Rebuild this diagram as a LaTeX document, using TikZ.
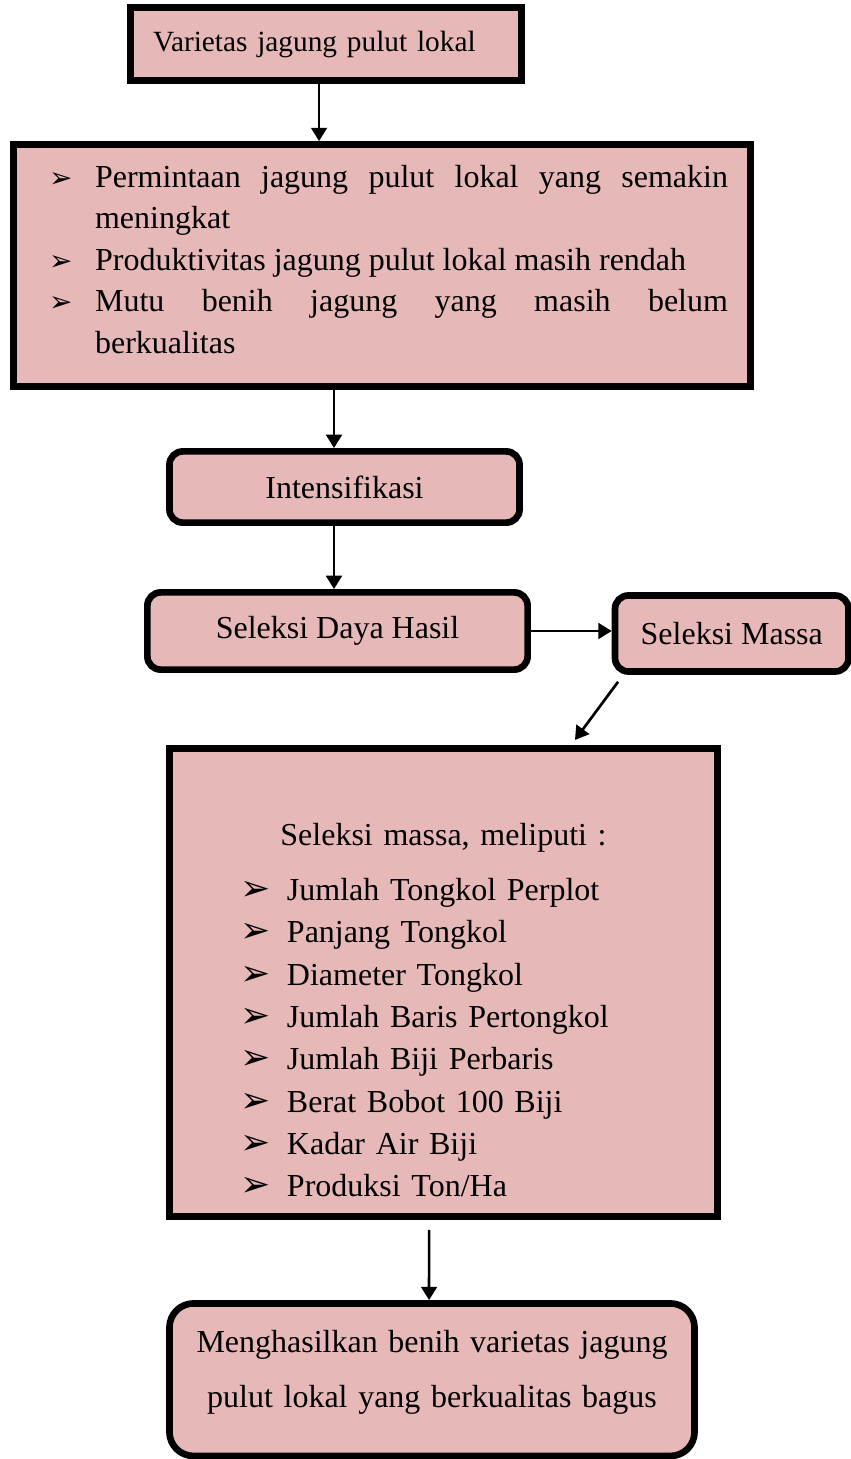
\documentclass[tikz,border=0pt]{standalone}
\usepackage{fontspec}
\setmainfont{Liberation Serif}
\newfontfamily\dingfont{DejaVu Sans}
\usepackage{tikz}
\usetikzlibrary{arrows.meta, positioning}
\definecolor{pinkfill}{RGB}{230,184,183}
\hyphenpenalty=10000
\tolerance=9999
\newcommand{\panah}[1]{{\dingfont\fontsize{#1}{#1}\selectfont ➢}}
\newcommand{\butir}[3]{\noindent\hangindent=#1\hangafter=1\makebox[#1][l]{\panah{#2}}#3\par}

\begin{document}
\begin{tikzpicture}[
  x=0.375pt, y=-0.375pt,
  box/.style={rectangle, draw=black, line width=2.5pt, fill=pinkfill,
              font=\fontsize{12pt}{15.56pt}\selectfont},
  roundbox/.style={box, rounded corners=5pt, align=center},
  arrow/.style={-{Triangle[length=5pt, width=5.9pt]}, line width=1pt}
]
\useasboundingbox (0,0) rectangle (850,1459);
\node[box, minimum width=146.6pt, minimum height=27.4pt, inner xsep=8.5pt,
      text width=129.7pt, align=left, font=\fontsize{11pt}{13pt}\selectfont]
      (varietas) at (326,44) {Varietas jagung pulut lokal};
\node[box, minimum width=276.4pt, minimum height=90.8pt, text width=259.5pt, align=justify]
      (masalah) at (382,265.5) {\leftskip=4.9pt
  \butir{17.25pt}{10.5pt}{Permintaan jagung pulut lokal yang semakin meningkat}
  \butir{17.25pt}{10.5pt}{Produktivitas jagung pulut lokal masih rendah}
  \butir{17.25pt}{10.5pt}{Mutu benih jagung yang masih belum\linebreak berkualitas\rule[-4.9pt]{0pt}{4.9pt}}};
\node[roundbox, minimum width=131.3pt, minimum height=26.7pt] (intens) at (344.5,487) {Intensifikasi};
\node[roundbox, minimum width=142.6pt, minimum height=28.95pt] (daya) at (337.5,631) {Seleksi Daya Hasil};
\node[roundbox, minimum width=87.55pt, minimum height=28.5pt] (massa) at (731.75,633.5) {Seleksi Massa};
\node[box, minimum width=205.6pt, minimum height=175.6pt, text width=151.9pt, align=left,
      font=\fontsize{12pt}{15.86pt}\selectfont] (seleksi) at (443.5,982.5) {%
  \noindent\makebox[\hsize]{\rule{0pt}{29.25pt}Seleksi massa, meliputi :}\par
  \vspace{4.65pt}
  \butir{17.25pt}{13.5pt}{Jumlah Tongkol Perplot}
  \butir{17.25pt}{13.5pt}{Panjang Tongkol}
  \butir{17.25pt}{13.5pt}{Diameter Tongkol}
  \butir{17.25pt}{13.5pt}{Jumlah Baris Pertongkol}
  \butir{17.25pt}{13.5pt}{Jumlah Biji Perbaris}
  \butir{17.25pt}{13.5pt}{Berat Bobot 100 Biji}
  \butir{17.25pt}{13.5pt}{Kadar Air Biji}
  \butir{17.25pt}{13.5pt}{Produksi Ton/Ha}};
\node[roundbox, rounded corners=9pt, minimum width=196.9pt, minimum height=57.2pt,
      text width=180pt, font=\fontsize{12pt}{20.6pt}\selectfont]
      (hasil) at (432,1379.7) {Menghasilkan benih varietas jagung\\
  pulut lokal yang berkualitas bagus\rule[-7.9pt]{0pt}{7.9pt}};
\coordinate (a1) at ([xshift=-2.6pt]varietas.south);
\coordinate (a2) at ([xshift=-3.94pt]intens.north);
\coordinate (a3) at ([xshift=-3.94pt]intens.south);
\draw[arrow] (a1) -- (a1 |- masalah.north);
\draw[arrow] (a2 |- masalah.south) -- (a2);
\draw[arrow] (a3) -- (a3 |- daya.north);
\draw[arrow] (daya.east) -- (daya.east -| massa.west);
\draw[arrow] ([shift={(2.4pt,-2.6pt)}]massa.south west) -- ([shift={(49.3pt,1.9pt)}]seleksi.north);
\draw[arrow] ([shift={(-5.4pt,-3.75pt)}]seleksi.south) -- ([xshift=-1.1pt]hasil.north);
\end{tikzpicture}
\end{document}
